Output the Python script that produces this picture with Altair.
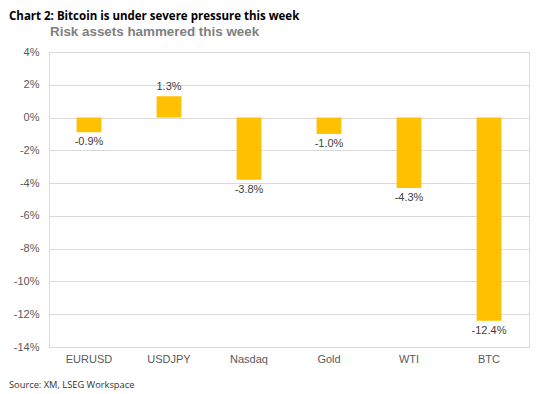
import altair as alt
import pandas as pd

categories = ["EURUSD", "USDJPY", "Nasdaq", "Gold", "WTI", "BTC"]
values = [-0.9, 1.3, -3.8, -1.0, -4.3, -12.4]
y_ticks = [4, 2, 0, -2, -4, -6, -8, -10, -12, -14]

chart_title = "Chart 2: Bitcoin is under severe pressure this week"
subtitle = "Risk assets hammered this week"
source = "Source: XM, LSEG Workspace"

df = pd.DataFrame({"asset": categories, "value": values})
df["label"] = [f"{v:.1f}%" for v in values]

W, H = 480, 295

x = alt.X("asset:N", sort=categories, title=None,
          scale=alt.Scale(paddingInner=0.69, paddingOuter=0.345),
          axis=alt.Axis(labelAngle=0, domain=False, ticks=False, labelPadding=6,
                        labelFont="Liberation Sans", labelFontSize=11, labelColor="#595959"))
y = alt.Y("value:Q", title=None,
          scale=alt.Scale(domain=[-14, 4], nice=False),
          axis=alt.Axis(values=y_ticks, labelExpr="datum.value + '%'", domain=False, ticks=False,
                        labelOverlap=False, labelPadding=10, grid=True, gridColor="#d9d9d9", gridWidth=1,
                        labelFont="Liberation Sans", labelFontSize=11, labelColor="#595959"))

bars = alt.Chart(df).mark_bar(color="#FFC000").encode(x=x, y=y, y2=alt.datum(0))

labels_pos = alt.Chart(df).transform_filter("datum.value >= 0").mark_text(
    baseline="bottom", dy=-4, font="Liberation Sans", fontSize=11, color="#404040"
).encode(x=x, y=y, text="label:N")

labels_neg = alt.Chart(df).transform_filter("datum.value < 0").mark_text(
    baseline="top", dy=4, font="Liberation Sans", fontSize=11, color="#404040"
).encode(x=x, y=y, text="label:N")

tdf = pd.DataFrame({"t": [chart_title]})
title_mark = alt.Chart(tdf).mark_text(
    align="left", baseline="top", font="Open Sans", fontWeight="bold", fontSize=11.5, color="#000000"
).encode(x=alt.value(-40), y=alt.value(-41), text="t:N")

sdf = pd.DataFrame({"t": [subtitle]})
sub_mark = alt.Chart(sdf).mark_text(
    align="left", baseline="middle", font="Liberation Sans", fontWeight="bold", fontSize=13.4, color="#7f7f7f"
).encode(x=alt.value(1), y=alt.value(-20), text="t:N")

srcdf = pd.DataFrame({"t": [source]})
src_mark = alt.Chart(srcdf).mark_text(
    align="left", baseline="middle", font="Open Sans", fontSize=9.3, color="#333333"
).encode(x=alt.value(-40), y=alt.value(333), text="t:N")

chart = alt.layer(bars, labels_pos, labels_neg, title_mark, sub_mark, src_mark).properties(
    width=W, height=H,
    autosize=alt.AutoSizeParams(type="none"),
    padding={"left": 41, "top": 44, "right": 12, "bottom": 44},
).configure_view(stroke=None).configure(background="white")

chart.save("out.html", embed_options={"renderer": "svg", "actions": False})
